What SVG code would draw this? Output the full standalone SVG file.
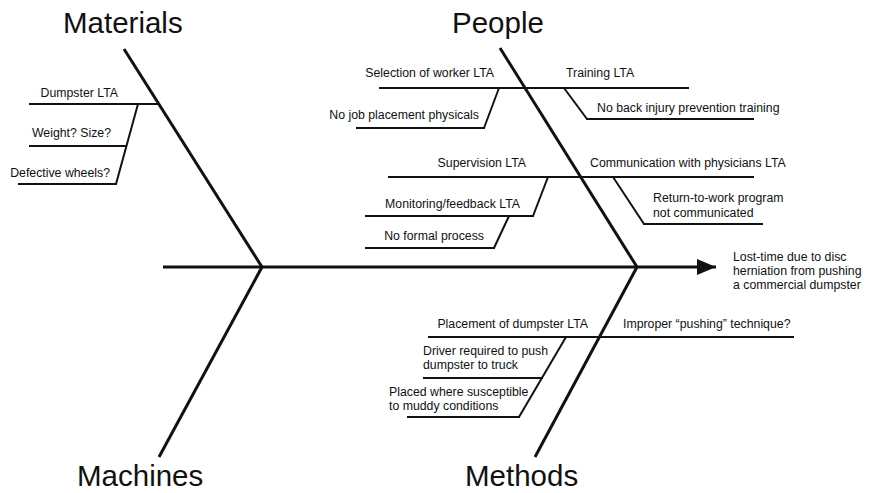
<svg xmlns="http://www.w3.org/2000/svg" width="874" height="493" viewBox="0 0 874 493">
<defs>
<style>
.t{font-family:"Liberation Sans",Arial,sans-serif;font-size:12.3px;fill:#111}
.e{text-anchor:end}
.h{font-family:"Liberation Sans",Arial,sans-serif;font-size:29.5px;fill:#111}
.bone{stroke:#111;stroke-width:3;fill:none;stroke-linecap:butt}
.sub{stroke:#111;stroke-width:2;fill:none}
</style>
<marker id="ah" markerWidth="20" markerHeight="16" refX="19" refY="8" orient="auto" markerUnits="userSpaceOnUse">
<path d="M0,0 L19,8 L0,16 Z" fill="#111"/>
</marker>
</defs>
<rect width="874" height="493" fill="#fff"/>

<g id="connectors">
<line class="bone" x1="163" y1="267" x2="716" y2="267" marker-end="url(#ah)" stroke-width="3.5"/>
<line class="bone" x1="124" y1="49" x2="262" y2="267"/>
<line class="bone" x1="262" y1="267" x2="159" y2="457"/>
<line class="bone" x1="500" y1="48" x2="637" y2="267"/>
<line class="bone" x1="637" y1="267" x2="535" y2="457"/>
</g>

<g id="effect">
<text class="t" x="733" y="261">Lost-time due to disc</text>
<text class="t" x="733" y="275">herniation from pushing</text>
<text class="t" x="733" y="289">a commercial dumpster</text>
</g>

<g id="materials">
<text class="h" x="63" y="33">Materials</text>
</g>
<g id="machines">
<text class="h" x="77" y="486">Machines</text>
</g>
<g id="people">
<text class="h" x="452" y="33">People</text>
</g>
<g id="methods">
<text class="h" x="465" y="486">Methods</text>
</g>

<g id="dumpster-lta">
<text class="t e" x="118" y="97">Dumpster LTA</text>
<line class="sub" x1="29" y1="104" x2="159" y2="104"/>
<polyline class="sub" points="138,104 116,184"/>
</g>
<g id="weight-size">
<text class="t e" x="111" y="137">Weight? Size?</text>
<line class="sub" x1="29" y1="146" x2="127" y2="146"/>
</g>
<g id="defective-wheels">
<text class="t e" x="110" y="177">Defective wheels?</text>
<line class="sub" x1="18" y1="184" x2="117" y2="184"/>
</g>

<g id="selection-lta">
<text class="t e" x="494" y="77">Selection of worker LTA</text>
<line class="sub" x1="379" y1="88" x2="689" y2="88"/>
<line class="sub" x1="499" y1="88" x2="484" y2="128"/>
</g>
<g id="no-job-placement">
<text class="t e" x="479" y="119">No job placement physicals</text>
<line class="sub" x1="356" y1="128" x2="485" y2="128"/>
</g>
<g id="training-lta">
<text class="t" x="566" y="77">Training LTA</text>
<line class="sub" x1="564" y1="88" x2="587" y2="119"/>
</g>
<g id="no-back-injury">
<text class="t" x="597" y="112">No back injury prevention training</text>
<line class="sub" x1="586" y1="119" x2="754" y2="119"/>
</g>

<g id="supervision-lta">
<text class="t e" x="526" y="167">Supervision LTA</text>
<line class="sub" x1="388" y1="177" x2="754" y2="177"/>
<line class="sub" x1="548" y1="177" x2="533" y2="216"/>
</g>
<g id="monitoring-lta">
<text class="t e" x="520" y="208">Monitoring/feedback LTA</text>
<line class="sub" x1="365" y1="216" x2="534" y2="216"/>
<line class="sub" x1="509" y1="216" x2="494" y2="248"/>
</g>
<g id="no-formal-process">
<text class="t e" x="484" y="240">No formal process</text>
<line class="sub" x1="365" y1="248" x2="495" y2="248"/>
</g>
<g id="communication-lta">
<text class="t" x="590" y="167">Communication with physicians LTA</text>
<line class="sub" x1="613" y1="177" x2="644" y2="224"/>
</g>
<g id="return-to-work">
<text class="t" x="653" y="202">Return-to-work program</text>
<text class="t" x="653" y="217">not communicated</text>
<line class="sub" x1="643" y1="224" x2="763" y2="224"/>
</g>

<g id="placement-lta">
<text class="t e" x="588" y="328">Placement of dumpster LTA</text>
<line class="sub" x1="428" y1="337" x2="794" y2="337"/>
<line class="sub" x1="566" y1="337" x2="519" y2="417"/>
</g>
<g id="improper-pushing">
<text class="t" x="623" y="328">Improper “pushing” technique?</text>
</g>
<g id="driver-required">
<text class="t" x="423" y="355">Driver required to push</text>
<text class="t" x="423" y="369">dumpster to truck</text>
<line class="sub" x1="423" y1="378" x2="543" y2="378"/>
</g>
<g id="placed-where">
<text class="t" x="389" y="396">Placed where susceptible</text>
<text class="t" x="389" y="410">to muddy conditions</text>
<line class="sub" x1="407" y1="417" x2="520" y2="417"/>
</g>
</svg>
